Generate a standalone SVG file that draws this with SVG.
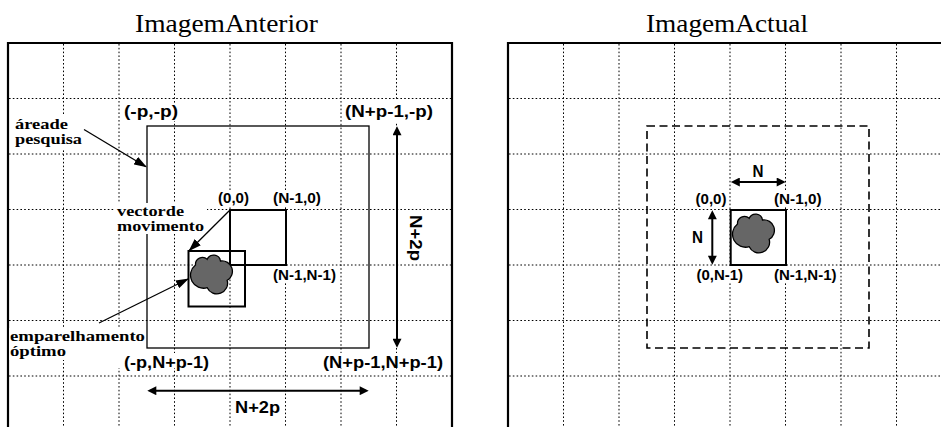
<svg xmlns="http://www.w3.org/2000/svg" width="941" height="427" viewBox="0 0 941 427">
<style>
.grid{fill:none;stroke:#000;stroke-width:1;stroke-dasharray:1.6 2.2}
.frame{fill:none;stroke:#000;stroke-width:2.2}
.thin{fill:none;stroke:#000;stroke-width:1.3}
.blk{fill:none;stroke:#000;stroke-width:2}
.dash{fill:none;stroke:#000;stroke-width:1.6;stroke-dasharray:8 4.5}
.blob{fill:#666;stroke:#000;stroke-width:1.3}
.bg{fill:#fff}
.ttl{font-family:"Liberation Serif","Times New Roman",serif;font-size:25px}
.lbl{font-family:"Liberation Sans",Arial,sans-serif;font-weight:bold;font-size:17px}
.sm{font-family:"Liberation Sans",Arial,sans-serif;font-weight:bold;font-size:14px}
.ser{font-family:"Liberation Serif","Times New Roman",serif;font-weight:bold;font-size:15px}
.dbl{fill:none;stroke:#000;stroke-width:2;marker-start:url(#ah);marker-end:url(#ah)}
.ptr{fill:none;stroke:#000;stroke-width:1.3;marker-end:url(#ahs)}
</style>
<defs>
<marker id="ah" viewBox="0 0 10 10" refX="7" refY="5" markerWidth="10" markerHeight="9" markerUnits="userSpaceOnUse" orient="auto-start-reverse">
<path d="M0,0 L10,5 L0,10 Z" fill="#000"/>
</marker>
<marker id="ahs" viewBox="0 0 12 8" refX="11" refY="4" markerWidth="13" markerHeight="9" markerUnits="userSpaceOnUse" orient="auto">
<path d="M0,0 L12,4 L0,8 Z" fill="#000"/>
</marker>
<path id="blobshape" d="M6,14 A7,7 0 0 1 17.7,8.3 A7,7 0 0 1 31,10 A10.4,10.4 0 0 1 37.7,29.3 A10.7,10.7 0 0 1 17.7,36.7 A13,13 0 0 1 6,14 Z"/>
</defs>
<rect width="941" height="427" fill="#fff"/>

<g id="panel-anterior">
<text class="ttl" x="135" y="31.5" textLength="183" lengthAdjust="spacingAndGlyphs">ImagemAnterior</text>
<path class="grid" d="M63.5,44V427M119,44V427M174.5,44V427M230,44V427M285.5,44V427M341,44V427M396.5,44V427M9,98.5H451M9,154H451M9,209.5H451M9,265H451M9,320.5H451M9,376H451"/>
<path class="frame" d="M8,428V43H452V428"/>
</g>

<g id="panel-actual">
<text class="ttl" x="646" y="31.5" textLength="162" lengthAdjust="spacingAndGlyphs">ImagemActual</text>
<path class="grid" d="M563.5,44V427M619,44V427M674.5,44V427M730,44V427M785.5,44V427M841,44V427M896.5,44V427M509,98.5H941M509,154H941M509,209.5H941M509,265H941M509,320.5H941M509,376H941"/>
<path class="frame" d="M508,428V43H942"/>
</g>

<g id="label-match">
<rect class="bg" x="9.2" y="328" width="138" height="32"/>
<text class="ser" x="10" y="340.5" textLength="135" lengthAdjust="spacingAndGlyphs">emparelhamento</text>
<text class="ser" x="10" y="356" textLength="56" lengthAdjust="spacingAndGlyphs">óptimo</text>
</g>

<g id="search-area">
<rect class="thin" x="147" y="126" width="222" height="222"/>
<rect class="bg" x="122" y="103" width="58" height="18"/>
<text class="lbl" x="124" y="116.5" textLength="54" lengthAdjust="spacingAndGlyphs">(-p,-p)</text>
<rect class="bg" x="343" y="101" width="92" height="21"/>
<text class="lbl" x="345" y="116.5" textLength="88" lengthAdjust="spacingAndGlyphs">(N+p-1,-p)</text>
<rect class="bg" x="117" y="353" width="94" height="15"/>
<text class="lbl" x="124" y="368" textLength="85" lengthAdjust="spacingAndGlyphs">(-p,N+p-1)</text>
<rect class="bg" x="321" y="353" width="124" height="15"/>
<text class="lbl" x="323" y="368" textLength="120" lengthAdjust="spacingAndGlyphs">(N+p-1,N+p-1)</text>
</g>

<g id="block-reference">
<rect class="blk" x="230" y="210" width="56" height="55"/>
<rect class="bg" x="216" y="192" width="35" height="15"/>
<text class="sm" x="218" y="203" textLength="31" lengthAdjust="spacingAndGlyphs">(0,0)</text>
<rect class="bg" x="271" y="192" width="52" height="15"/>
<text class="sm" x="273" y="203" textLength="48" lengthAdjust="spacingAndGlyphs">(N-1,0)</text>
<rect class="bg" x="271" y="268" width="67" height="14"/>
<text class="sm" x="273" y="280" textLength="63" lengthAdjust="spacingAndGlyphs">(N-1,N-1)</text>
</g>

<g id="block-match">
<rect class="blk" x="188.5" y="251" width="56.5" height="55.5"/>
<use href="#blobshape" class="blob" transform="translate(189.5,251)"/>
</g>

<g id="label-area">
<rect class="bg" x="12" y="116" width="73" height="34"/>
<text class="ser" x="15" y="129" textLength="53" lengthAdjust="spacingAndGlyphs">áreade</text>
<text class="ser" x="15" y="143.5" textLength="67" lengthAdjust="spacingAndGlyphs">pesquisa</text>
</g>

<g id="label-vector">
<rect class="bg" x="114" y="203" width="93" height="31"/>
<text class="ser" x="117" y="215.5" textLength="67" lengthAdjust="spacingAndGlyphs">vectorde</text>
<text class="ser" x="117" y="230.5" textLength="87" lengthAdjust="spacingAndGlyphs">movimento</text>
</g>

<g id="dim-labels-anterior">
<text class="lbl" transform="translate(410,215) rotate(90)" x="0" y="0" textLength="46" lengthAdjust="spacingAndGlyphs">N+2p</text>
<text class="lbl" x="235" y="413" textLength="45" lengthAdjust="spacingAndGlyphs">N+2p</text>
</g>

<g id="search-window-actual">
<rect class="dash" x="647" y="126" width="222" height="222"/>
</g>

<g id="block-actual">
<rect class="blk" x="730.7" y="210" width="55.3" height="55"/>
<use href="#blobshape" class="blob" transform="translate(731.5,210)"/>
<text class="sm" x="695.5" y="203.5" textLength="31" lengthAdjust="spacingAndGlyphs">(0,0)</text>
<rect class="bg" x="772" y="192" width="52" height="15"/>
<text class="sm" x="774" y="203.5" textLength="47.5" lengthAdjust="spacingAndGlyphs">(N-1,0)</text>
<rect class="bg" x="694.5" y="268" width="51" height="14"/>
<text class="sm" x="696.5" y="279.5" textLength="46.5" lengthAdjust="spacingAndGlyphs">(0,N-1)</text>
<rect class="bg" x="772" y="268" width="67" height="14"/>
<text class="sm" x="774" y="279.5" textLength="62.5" lengthAdjust="spacingAndGlyphs">(N-1,N-1)</text>
<text class="lbl" x="752.5" y="176.5" textLength="11" lengthAdjust="spacingAndGlyphs">N</text>
<text class="lbl" x="692" y="242.5" textLength="11" lengthAdjust="spacingAndGlyphs">N</text>
</g>

<g id="connectors">
<line class="dbl" x1="397" y1="129" x2="397" y2="345"/>
<line class="dbl" x1="150" y1="390.7" x2="366" y2="390.7"/>
<line class="dbl" x1="733.5" y1="182" x2="783" y2="182"/>
<line class="dbl" x1="712.3" y1="213" x2="712.3" y2="262"/>
<line class="ptr" x1="84" y1="129.5" x2="146" y2="166.7"/>
<line class="ptr" x1="230" y1="210" x2="189.3" y2="250.5"/>
<line class="ptr" x1="99" y1="323" x2="188" y2="279"/>
</g>
</svg>
